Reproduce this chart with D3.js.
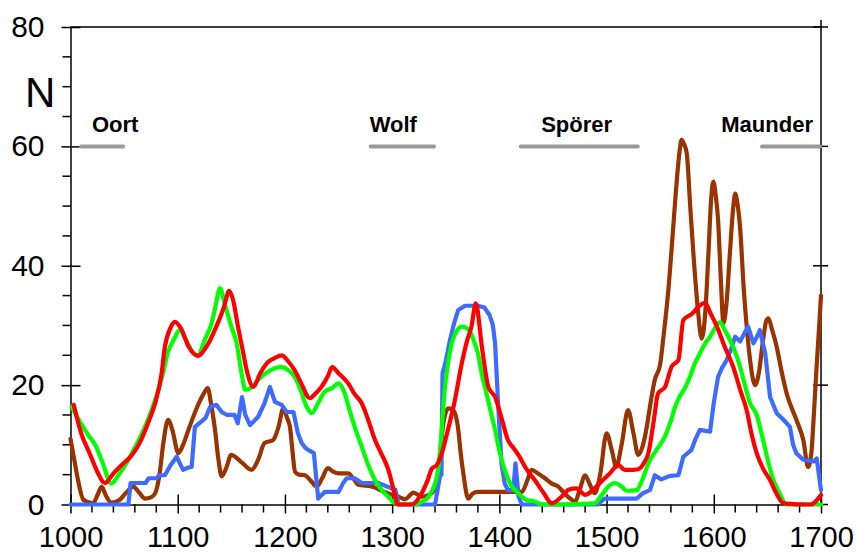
<!DOCTYPE html>
<html>
<head>
<meta charset="utf-8">
<script src="https://cdn.jsdelivr.net/npm/d3@7"></script>
<style>
  body { margin: 0; background: #fff; }
  svg { display: block; font-family: Arial, "Liberation Sans", sans-serif; }
  .axis path, .axis line { stroke: #000; stroke-width: 1.5; }
  .axis text { font-size: 30px; fill: #000; }
  .x-axis text { font-size: 29px; }
  .series { fill: none; stroke-width: 4.2; stroke-linejoin: round; stroke-linecap: round; }
  .minimum-bar { stroke: #999; stroke-width: 4; stroke-linecap: round; }
  .minimum-label { font-size: 22px; font-weight: bold; fill: #000; }
</style>
</head>
<body>
<div id="chart"></div>
<script>
// axis ticks
const xMajor = [1000, 1100, 1200, 1300, 1400, 1500, 1600, 1700];
const yMajor = [0, 20, 40, 60, 80];

// grand minima: name, start, end, label left edge (years)
const minimaNames = ["Oort", "Wolf", "Spörer", "Maunder"];
const minimaStart = [1010, 1280, 1420, 1645];
const minimaEnd = [1050, 1340, 1530, 1700];
const minimaLabelAt = [1020, 1279, 1439, 1607];

// brown series
const brownYears = [1000,1004,1007,1012,1021,1025,1029,1033,1038,1046,1052,1058.6,1064,1069.5,1075,1079,1083,1086.6,1091,1095,1100.6,1105,1110,1119,1124,1128,1131,1134.8,1138,1141,1145,1150,1155,1160,1169,1175,1181,1189,1194,1198.5,1202,1204.7,1207,1209.4,1213,1218.7,1224,1229.6,1235,1240,1245,1250,1259,1264,1268.5,1281,1293,1302,1306,1312,1320,1327.6,1337,1341.6,1345,1347.7,1352.4,1357,1361.7,1364,1366.4,1371,1375,1380,1421,1426,1430,1436,1442.6,1449,1455,1461,1466,1470.6,1475,1480,1484,1489,1494,1500,1505,1509,1514,1520,1525,1529.6,1534,1537.5,1541,1545,1550,1553,1557.6,1562,1565,1568,1570,1572,1574.8,1578,1581,1585,1588.7,1592,1595,1597.5,1599.6,1602,1604,1606.5,1609,1612,1615,1618,1620,1622,1624.5,1628,1630.7,1634,1638.5,1642,1646,1649,1651,1654,1658.7,1663,1668,1677,1683.5,1688,1691,1693,1695.7,1698,1700];
const brownVals = [11,7,4.1,0.8,0.2,1.5,3,1.5,0.3,0.8,2,3,2,1,1.2,1.9,5,10.3,14.2,12.5,8.6,10,12.5,16.7,18.5,19.5,17,12.5,7.5,4.7,6,8.3,7.8,7,5.8,7.5,10.3,10.8,13,16.1,14.5,13,9,5.5,5,4.9,4,3,4.5,6.1,5.5,5.2,5.2,4.3,3.3,3,2.1,1.5,1.3,0.9,2,1.3,1.9,4.1,9,13.6,16.1,15.8,12.5,8.5,5.2,1,1.8,2.1,2.1,4,5.8,5.2,4.4,3.5,3,1.8,1,0.5,2.5,4.9,3.5,1.9,5,11.9,9,6.3,10,15.8,12,8.3,10,13,17,20.9,23.5,28,35.9,46,53.2,59,61.1,60.5,58.8,50,42,33,27.8,32,42,51,54.1,51.5,47.7,38,30.4,34,42,49.5,52.1,50.5,46.5,36,29.8,24,20,22,27.6,30.8,31.2,29.5,26.4,22.5,18.6,14.2,10.8,6.3,8.6,14,22.5,29,35];

// blue series
const blueYears = [1000,1054,1056,1070,1073,1080,1083,1088,1093,1099,1105,1110,1113,1116,1122,1126,1130,1136,1141,1146,1153,1156,1160,1163,1167.5,1175,1181,1186,1190.7,1197,1201.6,1208,1212,1215.6,1219,1222,1227,1231,1237,1250,1254,1257.6,1265,1271.6,1287,1299.6,1303,1306,1340,1344.6,1346,1347,1350,1354,1358,1361.7,1368,1380,1386,1391,1394,1396,1399,1402,1405,1408,1413,1415,1418,1421,1492,1498,1528,1534,1540.5,1545,1551,1559,1567,1571.6,1579,1583,1587,1596.5,1600,1604,1608,1612,1616,1620,1624.5,1628,1632,1637,1640,1643,1648,1652.5,1658.7,1665,1671,1674,1677,1683.5,1693,1696,1700];
const blueVals = [0,0,3.6,3.6,4.4,4.4,4.9,4.9,6.5,8,5.8,6.2,6.3,13,13.9,14.5,16.3,16.7,15.5,15,15,13.6,18,15,13.3,14.7,17,19.7,17.2,16.7,15.5,15.5,12,10.3,9.5,9.1,8.6,1,2.1,2.1,3.5,4.4,4.4,3.6,3.6,2.7,2.5,0,0,4.7,5,22,24,27.6,30.5,32.6,33.3,33.3,33,31.7,30,27,16.4,6.9,3.5,2.4,2.4,6.9,1.3,0,0,1,1,1.9,2.4,4.9,4.2,4.8,4.9,8,9.1,11,12.5,12.2,17,21.4,23,24.2,26,28.1,27.3,28.5,29.8,27,28,29.2,25.3,18,15.3,14.2,13,10,8.6,7.5,7.2,7.7,2.4];

// green series
const greenYears = [1001,1010,1017,1023,1030,1038,1045,1051,1060,1069.5,1076,1082,1087,1091,1096,1102,1108,1114,1119,1125,1131.7,1135,1139.5,1144,1150,1155,1160,1163,1168,1175,1182,1190,1197,1203,1209,1215,1220,1225,1231,1237,1244,1250,1255,1260.7,1266,1271.6,1278,1284,1290,1296.4,1303,1321,1328,1334,1340,1343,1346,1349,1352,1355.6,1360,1365,1369,1372.6,1376,1380,1384,1388,1392,1396,1400,1405,1411,1417.7,1425,1433,1440,1489,1495,1501.6,1508,1514,1519,1528,1533,1539,1546,1554.5,1560,1564,1568,1573,1578,1582.5,1587,1592,1596.5,1601,1605.8,1610,1615,1620,1624.5,1629,1633.8,1640,1646,1651,1655.6,1661,1668,1700];
const greenVals = [16.4,13.5,11.5,10,7,3.5,5,6.6,9.5,13,16,19.2,22.5,25.6,27.5,29.2,27.5,25.5,25,27.5,30.4,33,36.2,33.5,29.8,27,21.5,19.2,19.5,20.9,22,22.8,23,22.5,21.4,19,16.5,15.3,17,18.9,19.5,20.3,19,15.5,12.5,9.7,6.5,4.1,2.5,1.3,0.2,0,0.5,1.3,3.5,5.8,12,19.2,23.5,27,29,29.8,29.6,29,27.5,25.3,21.5,18.6,15.5,12.5,9,5.8,3.2,1.9,0.8,0.5,0,0.2,1.5,3,3.6,3,2.3,2.4,4,6.9,9,11.4,14,16.4,18,19.5,21.5,23.7,25.3,27,28.1,29.5,30.5,29.3,27.6,25.5,23.1,20,17,15,10.8,7,4.1,2,0,0];

// red series
const redYears = [1003,1010,1018,1025,1032,1040,1050,1057,1065,1072,1079,1085,1088,1093,1097.5,1103,1110,1119,1127,1136,1143,1148,1152,1156,1160,1165,1170.5,1177,1184.5,1190,1197,1203,1209,1216,1223,1228,1234,1240,1244,1250,1259,1265,1271.5,1278,1284,1290,1296.5,1302,1305,1318,1327.6,1333,1337,1341.6,1347,1352,1358,1365,1370,1374,1378,1384,1389.7,1396,1402,1408,1413,1417.7,1425,1433,1441,1449,1458,1465,1472,1480,1487.6,1495,1503,1511,1517,1524,1529.6,1535,1539,1544,1548,1554.5,1560.7,1567,1571.6,1580,1586,1592,1597,1603,1610,1618,1625,1630.7,1635,1640,1646,1652.5,1658,1665,1690,1700];
const redVals = [16.7,11.9,8.5,5.5,3.6,5.2,7,8.2,10.5,13.5,17,22,26.4,29.5,30.6,29.5,26.5,24.9,26.5,29.8,33,35.8,34,30,26.4,22,19.7,22,23.9,24.5,25,24,22.5,20,17.8,18.5,19.7,21.5,23,22,20.3,18.5,17,14,10.8,8.5,5.8,2,0,0,1.9,4,6,6.6,9,12.5,17,23.7,27.5,29.8,33.7,26,19.7,18,14.5,10.8,9.5,8.3,6,4.1,2,0.2,1.3,2.5,2.7,1.6,2.5,3.8,5.2,6.6,5.8,5.8,5.9,7,8.6,14,18.6,19.7,23.1,24.2,30.9,32,33.2,33.8,32,29.8,26.5,23.1,19,15.8,12,8.6,6,4.1,2,0.2,0,1.6];

const width = 857, height = 553;

const svg = d3.select("#chart").append("svg")
  .attr("width", width)
  .attr("height", height);

const x = d3.scaleLinear().domain([1000, 1700]).range([70.5, 821]);
const y = d3.scaleLinear().domain([0, 80]).range([504.5, 27]);

// frame: top and right lines
svg.append("line")
  .attr("x1", x(1000)).attr("x2", x(1700))
  .attr("y1", y(80)).attr("y2", y(80))
  .attr("stroke", "#000").attr("stroke-width", 1.5);
svg.append("line")
  .attr("x1", x(1700)).attr("x2", x(1700))
  .attr("y1", y(80) - 7).attr("y2", y(0))
  .attr("stroke", "#000").attr("stroke-width", 1.5);

// right axis ticks, crossing the line
svg.append("g")
  .attr("class", "axis")
  .selectAll("line")
  .data(yMajor)
  .join("line")
  .attr("x1", x(1700) - 8).attr("x2", x(1700) + 7)
  .attr("y1", d => y(d)).attr("y2", d => y(d));

// left axis
const yAxis = svg.append("g")
  .attr("class", "axis")
  .attr("transform", `translate(${x(1000)},0)`)
  .call(d3.axisLeft(y).tickValues(yMajor).tickSize(9).tickPadding(17).tickSizeOuter(0));
yAxis.selectAll(".tick").append("line")
  .attr("x2", 10).attr("stroke", "#000");
yAxis.append("g")
  .selectAll("line")
  .data(d3.range(5, 80, 5).filter(v => v % 20 !== 0))
  .join("line")
  .attr("x1", -8).attr("x2", 0)
  .attr("y1", d => y(d)).attr("y2", d => y(d));

// bottom axis
const xAxis = svg.append("g")
  .attr("class", "axis x-axis")
  .attr("transform", `translate(0,${y(0)})`)
  .call(d3.axisBottom(x).tickValues(xMajor).tickSize(9).tickPadding(13)
    .tickSizeOuter(0).tickFormat(d3.format("d")));
xAxis.selectAll(".tick").append("line")
  .attr("y2", -10).attr("stroke", "#000");
xAxis.append("g")
  .selectAll("line")
  .data(d3.range(1020, 1700, 20).filter(v => v % 100 !== 0))
  .join("line")
  .attr("x1", d => x(d)).attr("x2", d => x(d))
  .attr("y1", 0).attr("y2", 8);

// y label
svg.append("text")
  .attr("x", 25).attr("y", 107)
  .attr("font-size", 42)
  .text("N");

// grand minima bars and names
const minima = minimaNames.map((name, i) => ({
  name, start: minimaStart[i], end: minimaEnd[i], labelAt: minimaLabelAt[i]
}));
svg.append("g")
  .selectAll("line")
  .data(minima)
  .join("line")
  .attr("class", "minimum-bar")
  .attr("x1", d => x(d.start)).attr("x2", d => x(d.end) - 1)
  .attr("y1", y(60)).attr("y2", y(60));
svg.append("g")
  .selectAll("text")
  .data(minima)
  .join("text")
  .attr("class", "minimum-label")
  .attr("x", d => x(d.labelAt))
  .attr("y", 132)
  .text(d => d.name);

// series
const series = [
  { years: brownYears, vals: brownVals, color: "#993300", curve: d3.curveMonotoneX },
  { years: blueYears, vals: blueVals, color: "#3D6BFF", curve: d3.curveLinear },
  { years: greenYears, vals: greenVals, color: "#00FF00", curve: d3.curveMonotoneX },
  { years: redYears, vals: redVals, color: "#FF0000", curve: d3.curveMonotoneX }
];

series.forEach(s => {
  const pts = s.years.map((yr, i) => [yr, s.vals[i]]);
  const line = d3.line()
    .x(d => x(d[0]))
    .y(d => y(d[1]))
    .curve(s.curve);
  svg.append("path")
    .attr("class", "series")
    .attr("stroke", s.color)
    .attr("d", line(pts));
});
</script>
</body>
</html>
